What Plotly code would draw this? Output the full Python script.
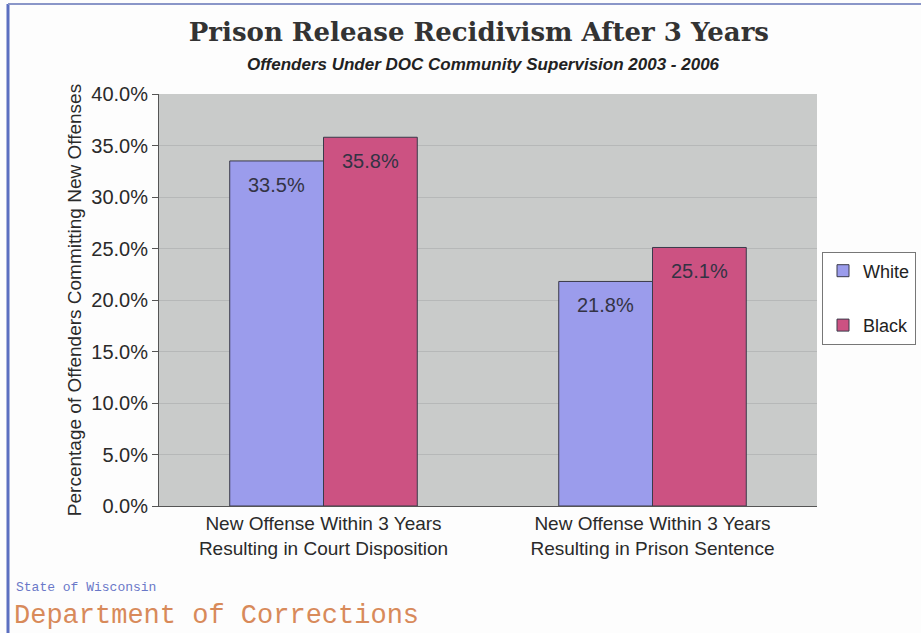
import plotly.graph_objects as go

categories = ["New Offense Within 3 Years<br>Resulting in Court Disposition",
              "New Offense Within 3 Years<br>Resulting in Prison Sentence"]
series_names = ["White", "Black"]
white_vals = [33.5, 21.8]
black_vals = [35.8, 25.1]
tick_vals = [0, 5, 10, 15, 20, 25, 30, 35, 40]
tick_text = ["0.0%", "5.0%", "10.0%", "15.0%", "20.0%", "25.0%", "30.0%", "35.0%", "40.0%"]

W, H = 921, 633
ML, MR, MT, MB = 159, 104, 94, 127
BARGAP = 0.43
plot_w = W - ML - MR
plot_h = H - MT - MB
cat_w = plot_w / len(categories)
bar_w = cat_w * (1 - BARGAP) / 2


def px_x(x):
    return (x - ML) / plot_w


def px_y(y):
    return (H - MB - y) / plot_h


fig = go.Figure()
colors = ["#9b9cec", "#cc5282"]
for i, (name, vals, col) in enumerate(zip(series_names, [white_vals, black_vals], colors)):
    fig.add_trace(go.Bar(
        name=name, x=categories, y=vals, legendgroup=name,
        marker=dict(color=col, line=dict(color="#3a3a4a", width=1)),
    ))
    shift = (i - 0.5) * bar_w
    for c, v in zip(categories, vals):
        fig.add_annotation(
            x=c, y=v, xref="x", yref="y", text=f"{v:.1f}%",
            showarrow=False, xshift=shift, yshift=-24, yanchor="middle",
            font=dict(size=20, color="#333344", family="Liberation Sans"),
        )

fig.update_layout(
    width=W, height=H,
    margin=dict(l=ML, r=MR, t=MT, b=MB, autoexpand=False),
    paper_bgcolor="#fdfdfd",
    plot_bgcolor="#c9cbca",
    barmode="group", bargap=BARGAP, bargroupgap=0,
    font=dict(family="Liberation Sans", color="#2a2a2a"),
    title=dict(
        text="<b>Prison Release Recidivism After 3 Years</b>",
        x=0.52, xref="container", y=1 - 32 / H, yref="container",
        xanchor="center", yanchor="middle",
        font=dict(family="DejaVu Serif", size=26, color="#333333"),
    ),
    legend=dict(
        xref="container", yref="container",
        x=822 / W, y=1 - 298 / H, xanchor="left", yanchor="middle",
        bordercolor="#777777", borderwidth=1, bgcolor="#ffffff",
        font=dict(size=18, color="#222222"),
        tracegroupgap=28, itemwidth=30,
    ),
    showlegend=True,
)

fig.update_yaxes(
    range=[0, 40], tickvals=tick_vals, ticktext=tick_text,
    ticks="outside", ticklen=6, tickcolor="#555555",
    showgrid=True, gridcolor="#b6b8b8", gridwidth=1,
    showline=True, linecolor="#555555", linewidth=1,
    tickfont=dict(size=20, color="#2a2a2a"),
    title=dict(text="Percentage of Offenders Committing New Offenses",
               font=dict(size=19, color="#2a2a2a"), standoff=4),
    zeroline=False,
)
fig.update_xaxes(
    showline=True, linecolor="#555555", linewidth=1,
    ticks="", tickfont=dict(size=19, color="#2a2a2a"),
)

fig.add_annotation(
    text="<b><i>Offenders Under DOC Community Supervision 2003 - 2006</i></b>",
    xref="paper", yref="paper", x=px_x(483), y=px_y(65),
    xanchor="center", yanchor="middle",
    showarrow=False, font=dict(size=17, color="#222222", family="Liberation Sans"),
)
fig.add_annotation(
    text="State of Wisconsin", xref="paper", yref="paper",
    x=px_x(15), y=px_y(596), xanchor="left", yanchor="bottom", showarrow=False,
    font=dict(size=13, color="#6a78c8", family="Liberation Mono"),
    borderpad=0,
)
fig.add_annotation(
    text="Department of Corrections", xref="paper", yref="paper",
    x=px_x(13), y=px_y(632), xanchor="left", yanchor="bottom", showarrow=False,
    font=dict(size=27, color="#d88a5a", family="Liberation Mono"),
    borderpad=0,
)
# page frame lines
fig.add_shape(type="line", xref="paper", yref="paper",
              x0=px_x(8), x1=px_x(8), y0=px_y(633), y1=px_y(4),
              line=dict(color="#5b6fc0", width=3))
fig.add_shape(type="line", xref="paper", yref="paper",
              x0=px_x(8), x1=px_x(921), y0=px_y(4), y1=px_y(4),
              line=dict(color="#8a96c8", width=2))

fig.write_html("out.html")
